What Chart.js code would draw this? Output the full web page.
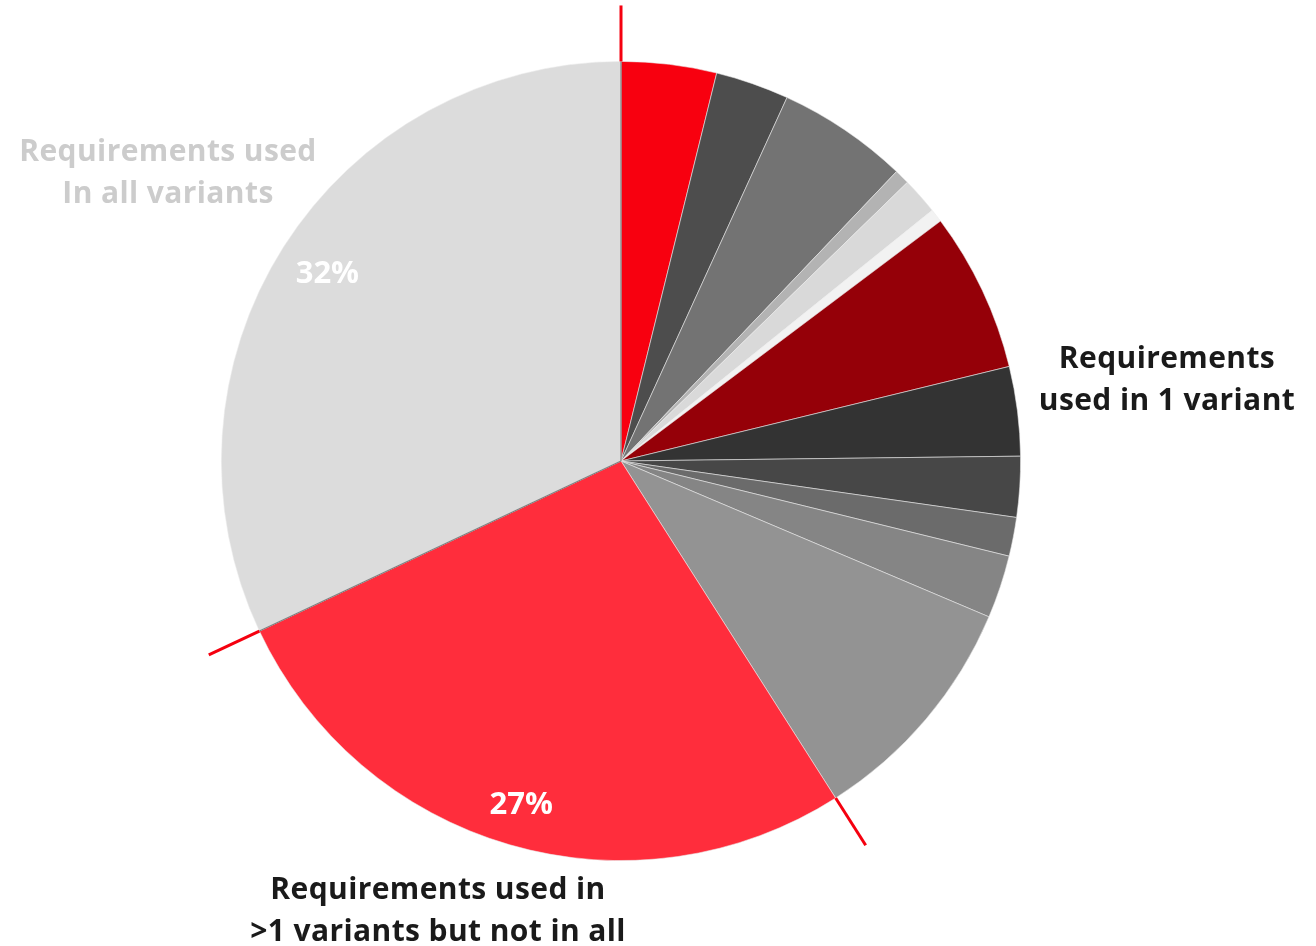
<!DOCTYPE html>
<html lang="en">
<head>
  <meta charset="UTF-8">
  <title>Requirements by variant usage</title>

  <!-- Chart.js for drawing the pie -->
  <script src="https://cdn.jsdelivr.net/npm/chart.js"></script>

  <style>
    html, body {
      margin: 0;
      padding: 0;
      background: #ffffff;
      overflow: hidden;
    }
    #chartContainer {
      position: relative;
      width: 1316px;
      height: 946px;
    }
    .groupLabel {
      position: absolute;
      font-family: "Open Sans", sans-serif;
      font-weight: 700;
      font-size: 30px;
      line-height: 42px;
      letter-spacing: 0.4px;
      text-align: center;
      white-space: nowrap;
      transform: translateX(-50%);
    }
  </style>
</head>
<body>

  <div id="chartContainer">
    <canvas id="variantChart" width="1316" height="946"></canvas>

    <!-- Group captions -->
    <div class="groupLabel" style="left:168px; top:129px; color:#cccccc;">Requirements used<br>In all variants</div>
    <div class="groupLabel" style="left:1167px; top:336px; color:#1a1a1a;">Requirements<br>used in 1 variant</div>
    <div class="groupLabel" style="left:438px; top:867px; color:#1a1a1a;">Requirements used in<br>&gt;1 variants but not in all</div>
  </div>

  <script>
    // Slice shares in percent, clockwise from 12 o'clock
    const sliceValues = [3.85, 2.97, 5.29, 0.61, 1.49, 0.54, 6.45, 3.61, 2.45, 1.57, 2.55, 9.60, 27.03, 32.0];

    // Fill colour of each slice
    const sliceColors = [
      '#f8000f', '#4d4d4d', '#737373', '#b3b3b3', '#d9d9d9', '#f2f2f2',
      '#950008', '#333333', '#474747', '#6b6b6b', '#858585', '#939393',
      '#ff2d3c', '#dcdcdc'
    ];

    // Percentage labels shown inside slices (empty = none)
    const sliceLabels = ['', '', '', '', '', '', '', '', '', '', '', '', '27%', '32%'];

    // Slices where a group starts; a red divider is drawn at their start edge
    const groupStarts = [0, 12, 13];

    // Draws the grey edge of the big slice, red group dividers and percent labels
    const overlayPlugin = {
      id: 'overlay',
      afterDatasetsDraw(chart) {
        const ctx = chart.ctx;
        const arcs = chart.getDatasetMeta(0).data;
        const cx = arcs[0].x;
        const cy = arcs[0].y;
        const r = arcs[0].outerRadius;

        // thin grey edges on the "all variants" slice
        const last = arcs[arcs.length - 1];
        ctx.save();
        ctx.strokeStyle = '#7f7f7f';
        ctx.lineWidth = 1.2;
        [last.startAngle, last.endAngle].forEach(a => {
          ctx.beginPath();
          ctx.moveTo(cx, cy);
          ctx.lineTo(cx + r * Math.cos(a), cy + r * Math.sin(a));
          ctx.stroke();
        });

        // red dividers sticking out of the pie between the groups
        ctx.strokeStyle = '#f5000f';
        ctx.lineWidth = 3;
        ctx.lineCap = 'butt';
        groupStarts.forEach(i => {
          const a = arcs[i].startAngle;
          ctx.beginPath();
          ctx.moveTo(cx + r * Math.cos(a), cy + r * Math.sin(a));
          ctx.lineTo(cx + r * 1.14 * Math.cos(a), cy + r * 1.14 * Math.sin(a));
          ctx.stroke();
        });

        // percent labels, "inside end": push the text box out until a corner
        // gets close to the rim
        ctx.fillStyle = '#ffffff';
        ctx.font = '700 31px "Open Sans", sans-serif';
        ctx.textAlign = 'center';
        ctx.textBaseline = 'middle';
        const margin = 18;
        arcs.forEach((arc, i) => {
          if (!sliceLabels[i]) return;
          const mid = (arc.startAngle + arc.endAngle) / 2;
          const hw = ctx.measureText(sliceLabels[i]).width / 2;
          const hh = 14;
          let lr = r * 0.5;
          for (; lr < r; lr += 1) {
            const x = lr * Math.cos(mid), y = lr * Math.sin(mid);
            const far = Math.max(...[[-1, -1], [1, -1], [-1, 1], [1, 1]].map(
              ([sx, sy]) => Math.hypot(x + sx * hw, y + sy * hh)));
            if (far > r - margin) break;
          }
          ctx.fillText(sliceLabels[i], cx + lr * Math.cos(mid), cy + lr * Math.sin(mid));
        });
        ctx.restore();
      }
    };

    const ctx = document.getElementById('variantChart').getContext('2d');
    const variantChart = new Chart(ctx, {
      type: 'pie',
      data: {
        labels: sliceValues.map((v, i) => 'Slice ' + (i + 1)),
        datasets: [{
          data: sliceValues,
          backgroundColor: sliceColors,
          borderColor: 'rgba(235,235,235,0.7)',
          borderWidth: 0.8,
          hoverOffset: 0
        }]
      },
      options: {
        responsive: false,
        animation: false,
        layout: {
          padding: { top: 61, bottom: 85, left: 221, right: 295 }
        },
        plugins: {
          legend: { display: false },
          tooltip: { enabled: false }
        }
      },
      plugins: [overlayPlugin]
    });
  </script>

</body>
</html>
